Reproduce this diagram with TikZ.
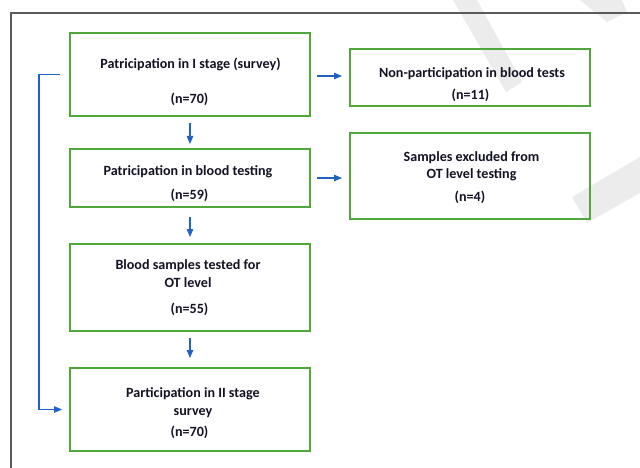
\documentclass[tikz,border=0pt]{standalone}
\usepackage{fontspec}
\setmainfont{Carlito}
\usetikzlibrary{arrows.meta}
\definecolor{boxgreen}{RGB}{80,168,58}
\definecolor{arrblue}{RGB}{32,98,200}
\definecolor{framegray}{RGB}{90,90,90}
\definecolor{wmgray}{RGB}{236,236,236}
\definecolor{txt}{RGB}{18,18,36}
\begin{document}
\begin{tikzpicture}[x=1pt,y=-1pt,
  flowbox/.style={draw=boxgreen, line width=2pt, rectangle, minimum width=240pt, inner sep=0pt},
  lbl/.style={anchor=mid, inner sep=0pt, text=txt, font=\fontsize{14.1}{17}\selectfont\bfseries},
  arr/.style={draw=arrblue, line width=1.2pt, -{Triangle[length=8pt,width=6.5pt]}}]
\useasboundingbox (0,0) rectangle (640,468);
% watermark strokes
\fill[wmgray] (453,0) -- (477,0) -- (522,82) -- (506,92) -- cycle;
\fill[wmgray] (580,0) -- (622,0) -- (627,12) -- (607,22) -- cycle;
\fill[wmgray] (572,197) -- (640,157) -- (640,193) -- (587,223) -- cycle;
% frame
\draw[framegray, line width=1.3pt] (11,468) -- (11,13) -- (640,13);
% boxes
\node[flowbox, minimum height=83pt] (b1) at (190,74.5) {};
\node[flowbox, minimum height=58pt] (b2) at (190,178) {};
\node[flowbox, minimum height=87pt] (b3) at (190,287.5) {};
\node[flowbox, minimum height=83pt] (b4) at (190,409.5) {};
\node[flowbox, minimum height=57pt] (r1) at (470,77.5) {};
\node[flowbox, minimum height=86pt] (r2) at (470,176) {};
% texts
\node[lbl] (t1a) at (190.5,66) {Patricipation in I stage (survey)};
\node[lbl] (t1b) at (189.5,101) {(n=70)};
\node[lbl] (t2a) at (188,173.5) {Patricipation in blood testing};
\node[lbl] (t2b) at (189.5,197) {(n=59)};
\node[lbl] (t3a) at (188,267.5) {Blood samples tested for};
\node[lbl] (t3b) at (188,285) {OT level};
\node[lbl] (t3c) at (189.5,311) {(n=55)};
\node[lbl] (t4a) at (193,395) {Participation in II stage};
\node[lbl] (t4b) at (193,413) {survey};
\node[lbl] (t4c) at (189.5,434.5) {(n=70)};
\node[lbl] (r1a) at (472,75) {Non-participation in blood tests};
\node[lbl] (r1b) at (470.5,97) {(n=11)};
\node[lbl] (r2a) at (471.5,159) {Samples excluded from};
\node[lbl] (r2b) at (471.5,176) {OT level testing};
\node[lbl] (r2c) at (470,199) {(n=4)};
% connectors
\draw[arr, shorten <=6pt, shorten >=4pt] (b1.south) -- (b2.north);
\draw[arr, shorten <=9pt, shorten >=6pt] (b2.south) -- (b3.north);
\draw[arr, shorten <=6pt, shorten >=9pt] (b3.south) -- (b4.north);
\draw[arr, shorten <=6pt, shorten >=7pt] ([yshift=-1.5pt]b1.east) -- ([yshift=-1.5pt]b1.east -| r1.west);
\draw[arr, shorten <=6pt, shorten >=7pt] (b2.east) -- (b2.east -| r2.west);
\draw[arr, shorten <=9pt, shorten >=7pt] (b1.west) -- ++(-30,0) |- (b4.west);
\end{tikzpicture}
\end{document}
